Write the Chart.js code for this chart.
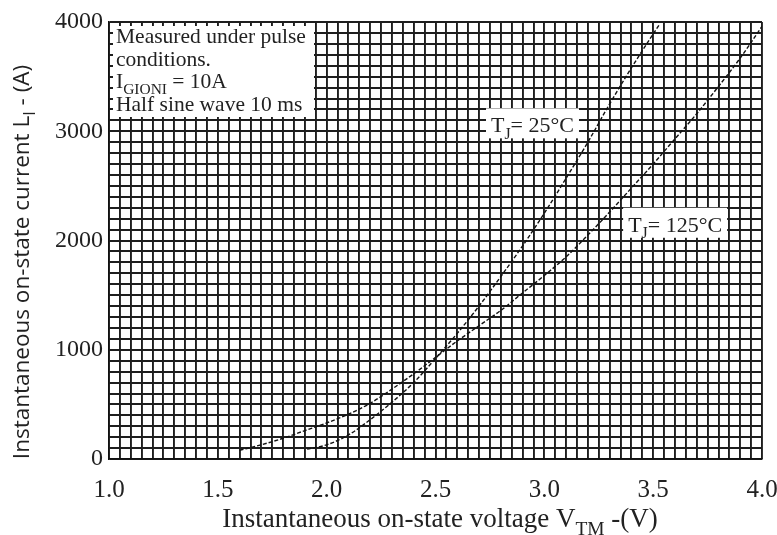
<!DOCTYPE html>
<html>
<head>
<meta charset="utf-8">
<script src="https://cdn.jsdelivr.net/npm/chart.js@4"></script>
<style>
  html, body { margin: 0; padding: 0; background: #fff; }
  #wrap { width: 777px; height: 535px; }
</style>
</head>
<body>
<div id="wrap"><canvas id="grafico" width="777" height="535"></canvas></div>
<script>
// curve data
const volts25 = [1.91, 2.0, 2.1, 2.2, 2.3, 2.4, 2.5, 2.6, 2.7, 2.8, 2.9, 3.0, 3.1, 3.2, 3.3, 3.4, 3.5, 3.53];
const amps25  = [90, 130, 220, 360, 520, 700, 920, 1150, 1400, 1670, 1950, 2250, 2570, 2900, 3250, 3580, 3890, 3980];
const volts125 = [1.6, 1.7, 1.8, 1.9, 2.0, 2.1, 2.2, 2.3, 2.4, 2.5, 2.6, 2.7, 2.8, 2.9, 3.0, 3.1, 3.2, 3.3, 3.4, 3.5, 3.6, 3.7, 3.8, 3.9, 4.0];
const amps125  = [80, 130, 190, 260, 330, 410, 510, 640, 780, 930, 1080, 1220, 1360, 1520, 1680, 1850, 2050, 2260, 2480, 2700, 2930, 3160, 3410, 3670, 3960];
const xTickLabels = ['1.0', '1.5', '2.0', '2.5', '3.0', '3.5', '4.0'];
const yTickLabels = ['0', '1000', '2000', '3000', '4000'];

const serif = '"Liberation Serif", "Times New Roman", serif';
const sans = '"Open Sans", "Noto Sans", sans-serif';

function toPoints(xs, ys) {
    return xs.map(function(x, i) { return { x: x, y: ys[i] }; });
}

// draws text parts [text, isSub] starting at x, returns end x
function drawParts(ctx, parts, x, y, size, family) {
    parts.forEach(function(p) {
        const s = p[1] ? size * 0.72 : size;
        ctx.font = s + 'px ' + family;
        ctx.fillText(p[0], x, p[1] ? y + size * 0.28 : y);
        x += ctx.measureText(p[0]).width;
    });
    return x;
}
function partsWidth(ctx, parts, size, family) {
    let w = 0;
    parts.forEach(function(p) {
        ctx.font = (p[1] ? size * 0.72 : size) + 'px ' + family;
        w += ctx.measureText(p[0]).width;
    });
    return w;
}

const notes = {
    id: 'notes',
    afterDatasetsDraw(chart) {
        const ctx = chart.ctx;
        const xs = chart.scales.x, ys = chart.scales.y;
        ctx.save();
        ctx.fillStyle = '#fff';
        ctx.textBaseline = 'alphabetic';
        ctx.textAlign = 'left';

        // info box top left
        ctx.fillRect(113, 26, 201, 91);
        ctx.fillStyle = '#222';
        drawParts(ctx, [['Measured under pulse', false]], 116, 43, 21.5, serif);
        drawParts(ctx, [['conditions.', false]], 116, 66, 21.5, serif);
        drawParts(ctx, [['I', false], ['GIONI', true], [' = 10A', false]], 116, 88, 21.5, serif);
        drawParts(ctx, [['Half sine wave 10 ms', false]], 116, 111, 21.5, serif);

        // temperature labels
        const l1 = [['T', false], ['J', true], ['= 25°C', false]];
        const l2 = [['T', false], ['J', true], ['= 125°C', false]];
        let px = xs.getPixelForValue(2.755), py = ys.getPixelForValue(2990);
        ctx.fillStyle = '#fff';
        ctx.fillRect(px - 5, py - 24, partsWidth(ctx, l1, 22, serif) + 10, 30);
        ctx.fillStyle = '#222';
        drawParts(ctx, l1, px, py, 22, serif);
        px = xs.getPixelForValue(3.385); py = ys.getPixelForValue(2080);
        ctx.fillStyle = '#fff';
        ctx.fillRect(px - 5, py - 24, partsWidth(ctx, l2, 22, serif) + 10, 30);
        ctx.fillStyle = '#222';
        drawParts(ctx, l2, px, py, 22, serif);

        // axis titles
        const xt = [['Instantaneous on-state voltage V', false], ['TM', true], [' -(V)', false]];
        const w = partsWidth(ctx, xt, 27, serif);
        drawParts(ctx, xt, 440 - w / 2, 527, 27, serif);

        const yt = [['Instantaneous on-state current L', false], ['I', true], [' - (A)', false]];
        ctx.translate(29, 262);
        ctx.rotate(-Math.PI / 2);
        const wy = partsWidth(ctx, yt, 22.5, sans);
        drawParts(ctx, yt, -wy / 2, 0, 22.5, sans);
        ctx.restore();
    }
};

function lineSet(label, xs, ys) {
    return {
        label: label,
        data: toPoints(xs, ys),
        showLine: true,
        borderColor: '#111',
        borderWidth: 1.4,
        borderDash: [4, 2],
        pointRadius: 0,
        fill: false,
        cubicInterpolationMode: 'monotone'
    };
}

const ctx = document.getElementById('grafico').getContext('2d');
const grafico = new Chart(ctx, {
    type: 'scatter',
    data: {
        datasets: [
            lineSet('Tj = 25°C', volts25, amps25),
            lineSet('Tj = 125°C', volts125, amps125)
        ]
    },
    options: {
        responsive: false,
        animation: false,
        layout: { padding: { top: 22, right: 15, left: 0, bottom: 0 } },
        plugins: { legend: { display: false }, tooltip: { enabled: false } },
        scales: {
            x: {
                type: 'linear', min: 1, max: 4,
                afterFit: function(s) { s.height = 76; s.paddingLeft = 0; s.paddingRight = 0; },
                afterBuildTicks: function(s) {
                    s.ticks = [];
                    for (let i = 0; i <= 60; i++) s.ticks.push({ value: 1 + i * 0.05 });
                },
                ticks: {
                    autoSkip: false, maxRotation: 0, padding: 16,
                    color: '#222',
                    font: { family: serif, size: 25 },
                    callback: function(v) {
                        const k = Math.round((v - 1) * 20);
                        return k % 10 === 0 ? xTickLabels[k / 10] : '';
                    }
                },
                grid: { color: '#1e1e1e', lineWidth: 1.9, drawTicks: false },
                border: { color: '#111', width: 1.5 }
            },
            y: {
                type: 'linear', min: 0, max: 4000,
                afterFit: function(s) { s.width = 109; s.paddingTop = 0; s.paddingBottom = 0; },
                afterBuildTicks: function(s) {
                    s.ticks = [];
                    for (let i = 0; i <= 40; i++) s.ticks.push({ value: i * 100 });
                },
                ticks: {
                    autoSkip: false, padding: 6,
                    color: '#222',
                    font: { family: serif, size: 24 },
                    callback: function(v) {
                        const k = Math.round(v / 100);
                        return k % 10 === 0 ? yTickLabels[k / 10] : '';
                    }
                },
                grid: { color: '#1e1e1e', lineWidth: 1.9, drawTicks: false },
                border: { color: '#111', width: 1.5 }
            }
        }
    },
    plugins: [notes]
});
</script>
</body>
</html>
